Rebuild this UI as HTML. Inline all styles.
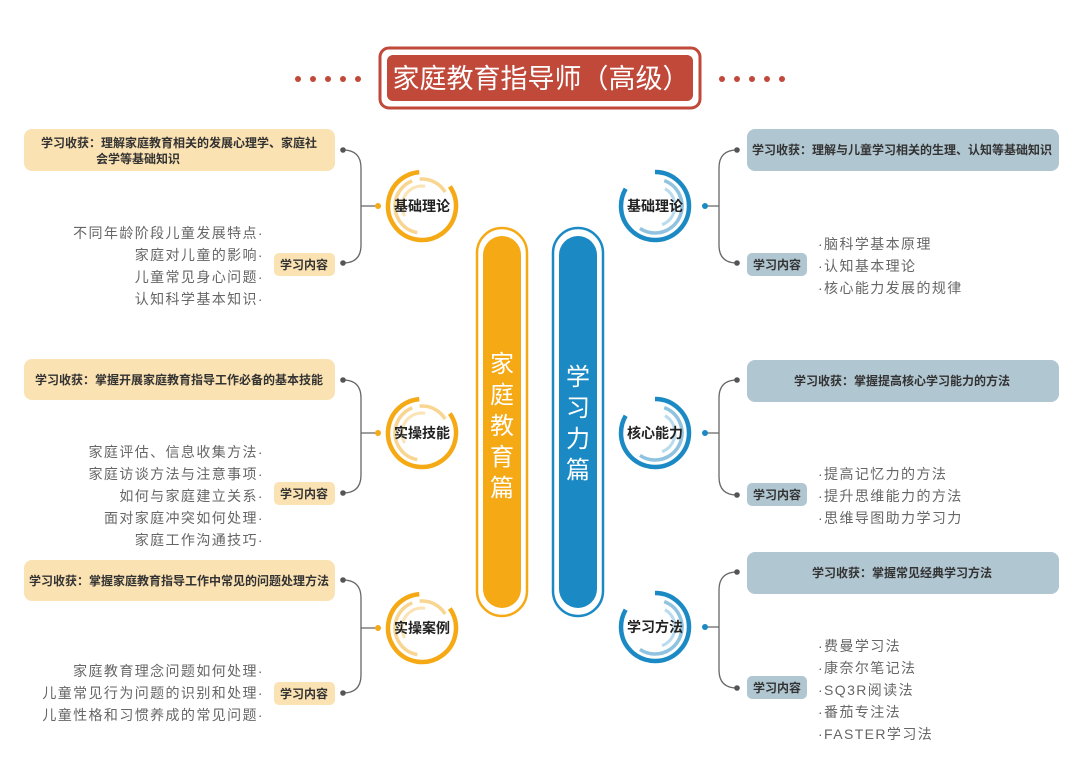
<!DOCTYPE html>
<html><head><meta charset="utf-8"><style>
html,body{margin:0;padding:0;background:#fff;}
svg{display:block;font-family:"Liberation Sans","Noto Sans CJK SC",sans-serif;}
.b{font-size:12px;font-weight:bold;fill:#333;}
.l{font-size:14px;fill:#666;letter-spacing:1.4px;}
.n{font-size:14px;font-weight:bold;fill:#222;}
</style></head><body>
<svg width="1080" height="763" viewBox="0 0 1080 763" xmlns="http://www.w3.org/2000/svg">
<defs>
<g id="oc">
 <circle r="34" fill="none" stroke="#f5a915" stroke-width="4.5" stroke-dasharray="178 300" transform="rotate(-35)"/>
 <circle r="27" fill="none" stroke="#f8d590" stroke-width="3.5" stroke-dasharray="70 200" transform="rotate(100)"/>
 <circle r="27" fill="none" stroke="#f8d590" stroke-width="3.5" stroke-dasharray="30 200" transform="rotate(-95)"/>
 <circle r="20" fill="none" stroke="#fae3b5" stroke-width="3" stroke-dasharray="45 200" transform="rotate(150)"/>
</g>
<g id="bc">
 <circle r="34" fill="none" stroke="#1b8ac4" stroke-width="4.5" stroke-dasharray="178 300" transform="rotate(-90)"/>
 <circle r="27" fill="none" stroke="#8fc3df" stroke-width="3.5" stroke-dasharray="70 200" transform="rotate(-70)"/>
 <circle r="27" fill="none" stroke="#8fc3df" stroke-width="3.5" stroke-dasharray="30 200" transform="rotate(60)"/>
 <circle r="20" fill="none" stroke="#b9dbee" stroke-width="3" stroke-dasharray="45 200" transform="rotate(-60)"/>
</g>
</defs>

<g fill="#c0493a">
 <circle cx="298" cy="79" r="3"/><circle cx="313" cy="79" r="3"/><circle cx="328" cy="79" r="3"/><circle cx="343" cy="79" r="3"/><circle cx="358" cy="79" r="3"/>
 <circle cx="722" cy="79" r="3"/><circle cx="737" cy="79" r="3"/><circle cx="752" cy="79" r="3"/><circle cx="767" cy="79" r="3"/><circle cx="782" cy="79" r="3"/>
</g>
<rect x="380" y="48" width="320" height="60" rx="9" fill="none" stroke="#c0493a" stroke-width="3"/>
<rect x="387" y="55" width="306" height="46" rx="6" fill="#c0493a"/>
<text x="541" y="88" text-anchor="middle" font-size="27" fill="#fff">家庭教育指导师（高级）</text>

<rect x="477" y="228" width="50" height="388" rx="25" fill="none" stroke="#f5a915" stroke-width="2.5"/>
<rect x="483" y="236" width="38" height="372" rx="19" fill="#f5a915"/>
<rect x="553" y="228" width="50" height="388" rx="25" fill="none" stroke="#1b8ac4" stroke-width="2.5"/>
<rect x="559" y="236" width="38" height="372" rx="19" fill="#1b8ac4"/>
<g font-size="24" fill="#fff" text-anchor="middle">
 <text x="502" y="372">家</text><text x="502" y="403">庭</text><text x="502" y="434">教</text><text x="502" y="465">育</text><text x="502" y="496">篇</text>
 <text x="578" y="385">学</text><text x="578" y="416">习</text><text x="578" y="447">力</text><text x="578" y="478">篇</text>
</g>

<g fill="#fbe2b2">
 <rect x="24" y="129" width="311" height="42" rx="8"/>
 <rect x="24" y="359" width="311" height="41" rx="8"/>
 <rect x="24" y="560" width="311" height="41" rx="8"/>
 <rect x="274" y="253" width="61" height="23" rx="5"/>
 <rect x="274" y="482" width="61" height="23" rx="5"/>
 <rect x="274" y="682" width="61" height="23" rx="5"/>
</g>
<text class="b" x="179" y="147" text-anchor="middle">学习收获：理解家庭教育相关的发展心理学、家庭社</text>
<text class="b" x="96" y="163">会学等基础知识</text>
<text class="b" x="179" y="384" text-anchor="middle">学习收获：掌握开展家庭教育指导工作必备的基本技能</text>
<text class="b" x="179" y="585" text-anchor="middle">学习收获：掌握家庭教育指导工作中常见的问题处理方法</text>
<g class="b" text-anchor="middle"><text x="304" y="269">学习内容</text><text x="304" y="498">学习内容</text><text x="304" y="698">学习内容</text></g>

<g fill="none" stroke="#666" stroke-width="1.3">
 <path d="M343 150 Q361 150 361 168 V245 Q361 263 343 263"/>
 <path d="M343 380 Q361 380 361 398 V475 Q361 493 343 493"/>
 <path d="M343 580 Q361 580 361 598 V675 Q361 693 343 693"/>
 <path d="M361 206 H378 M361 433 H378 M361 628 H378"/>
 <path d="M737 150 Q719 150 719 168 V245 Q719 263 737 263"/>
 <path d="M737 380 Q719 380 719 398 V477 Q719 495 737 495"/>
 <path d="M737 572 Q719 572 719 590 V670 Q719 688 737 688"/>
 <path d="M719 206 H704 M719 433 H704 M719 627 H704"/>
</g>
<g fill="#555">
 <circle cx="343" cy="150" r="2.8"/><circle cx="343" cy="263" r="2.8"/>
 <circle cx="343" cy="380" r="2.8"/><circle cx="343" cy="493" r="2.8"/>
 <circle cx="343" cy="580" r="2.8"/><circle cx="343" cy="693" r="2.8"/>
 <circle cx="737" cy="150" r="2.8"/><circle cx="737" cy="263" r="2.8"/>
 <circle cx="737" cy="380" r="2.8"/><circle cx="737" cy="495" r="2.8"/>
 <circle cx="737" cy="572" r="2.8"/><circle cx="737" cy="688" r="2.8"/>
</g>
<g fill="#f5a915"><circle cx="378" cy="206" r="3"/><circle cx="378" cy="433" r="3"/><circle cx="378" cy="628" r="3"/></g>
<g fill="#1b8ac4"><circle cx="705" cy="206" r="3"/><circle cx="705" cy="433" r="3"/><circle cx="705" cy="627" r="3"/></g>

<use href="#oc" x="422" y="206"/><use href="#oc" x="422" y="433"/><use href="#oc" x="422" y="628"/>
<use href="#bc" x="655" y="206"/><use href="#bc" x="655" y="433"/><use href="#bc" x="655" y="627"/>
<g class="n" text-anchor="middle">
 <text x="422" y="211">基础理论</text><text x="422" y="438">实操技能</text><text x="422" y="633">实操案例</text>
 <text x="655" y="211">基础理论</text><text x="655" y="438">核心能力</text><text x="655" y="632">学习方法</text>
</g>

<g class="l" text-anchor="end">
 <text x="264" y="238">不同年龄阶段儿童发展特点·</text>
 <text x="264" y="260">家庭对儿童的影响·</text>
 <text x="264" y="282">儿童常见身心问题·</text>
 <text x="264" y="304">认知科学基本知识·</text>
 <text x="264" y="457">家庭评估、信息收集方法·</text>
 <text x="264" y="479">家庭访谈方法与注意事项·</text>
 <text x="264" y="501">如何与家庭建立关系·</text>
 <text x="264" y="523">面对家庭冲突如何处理·</text>
 <text x="264" y="545">家庭工作沟通技巧·</text>
 <text x="264" y="676">家庭教育理念问题如何处理·</text>
 <text x="264" y="698">儿童常见行为问题的识别和处理·</text>
 <text x="264" y="720">儿童性格和习惯养成的常见问题·</text>
</g>

<g fill="#b0c6d1">
 <rect x="747" y="129" width="312" height="42" rx="8"/>
 <rect x="747" y="360" width="312" height="42" rx="8"/>
 <rect x="747" y="552" width="312" height="42" rx="8"/>
 <rect x="747" y="253" width="60" height="23" rx="5"/>
 <rect x="747" y="483" width="60" height="23" rx="5"/>
 <rect x="747" y="676" width="60" height="23" rx="5"/>
</g>
<text class="b" x="902" y="154" text-anchor="middle">学习收获：理解与儿童学习相关的生理、认知等基础知识</text>
<text class="b" x="902" y="385" text-anchor="middle">学习收获：掌握提高核心学习能力的方法</text>
<text class="b" x="902" y="577" text-anchor="middle">学习收获：掌握常见经典学习方法</text>
<g class="b" text-anchor="middle"><text x="777" y="269">学习内容</text><text x="777" y="499">学习内容</text><text x="777" y="692">学习内容</text></g>
<g class="l">
 <text x="818" y="249">·脑科学基本原理</text>
 <text x="818" y="271">·认知基本理论</text>
 <text x="818" y="293">·核心能力发展的规律</text>
 <text x="818" y="479">·提高记忆力的方法</text>
 <text x="818" y="501">·提升思维能力的方法</text>
 <text x="818" y="523">·思维导图助力学习力</text>
 <text x="818" y="651">·费曼学习法</text>
 <text x="818" y="673">·康奈尔笔记法</text>
 <text x="818" y="695">·SQ3R阅读法</text>
 <text x="818" y="717">·番茄专注法</text>
 <text x="818" y="739">·FASTER学习法</text>
</g>
</svg>
</body></html>
